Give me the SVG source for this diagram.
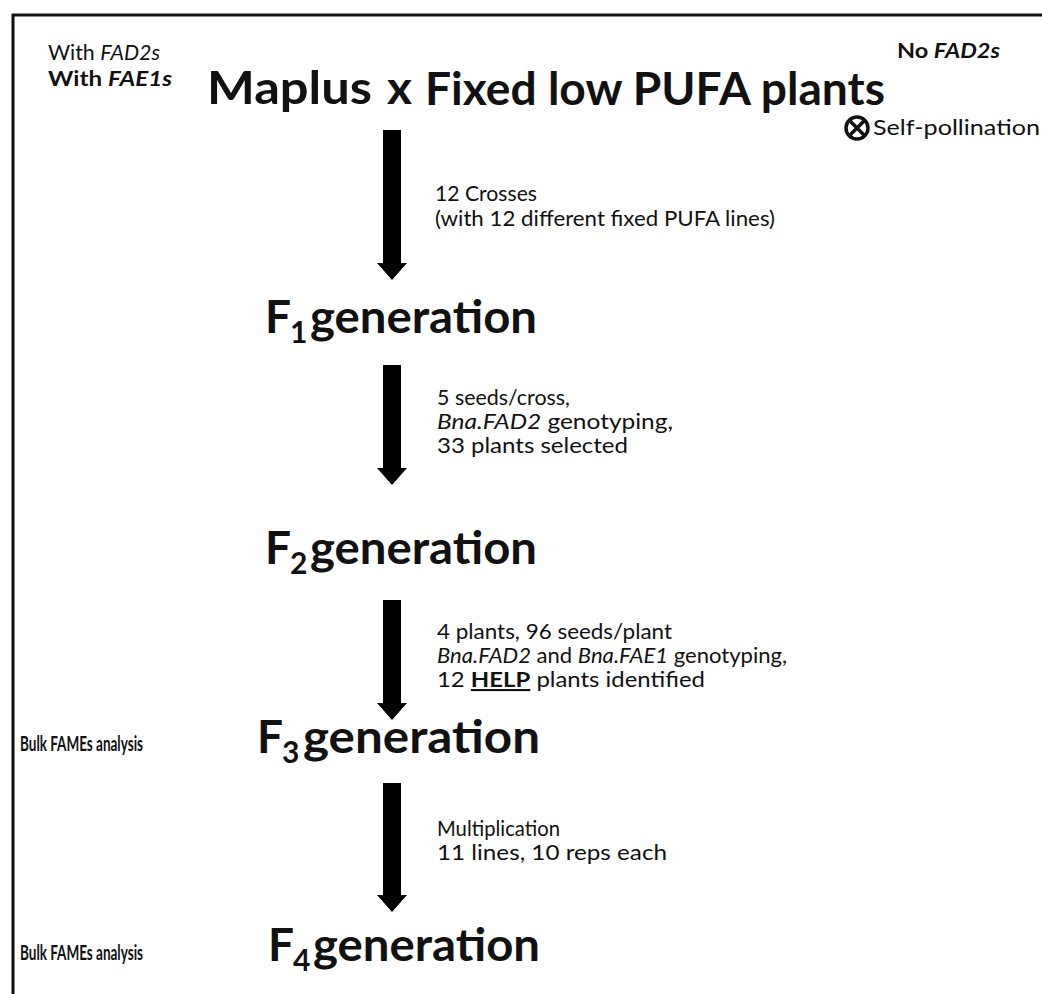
<svg xmlns="http://www.w3.org/2000/svg" width="1042" height="994" viewBox="0 0 1042 994">
<style>
text{font-family:Lato,"Open Sans","Liberation Sans",sans-serif;fill:#111}
.sm{font-size:21px}
.b{font-weight:bold}
.i{font-style:italic}
.big{font-size:46px;font-weight:bold}
.sub{font-size:30px;font-weight:bold}
.bulk{font-size:21px;font-weight:bold}
</style>
<defs>
<polygon id="arr" points="-15,-17 15,-17 0,0"/>
</defs>
<rect x="13" y="15" width="1060" height="1000" fill="none" stroke="#111" stroke-width="3"/>
<g id="parents">
<text class="sm" x="48" y="60" textLength="112" lengthAdjust="spacingAndGlyphs">With <tspan class="i">FAD2s</tspan></text>
<text class="sm b" x="48" y="86" textLength="124" lengthAdjust="spacingAndGlyphs">With <tspan class="i">FAE1s</tspan></text>
<text class="big" x="207" y="104" textLength="165" lengthAdjust="spacingAndGlyphs">Maplus</text>
<text class="big" x="387" y="104" textLength="25" lengthAdjust="spacingAndGlyphs">x</text>
<text class="big" x="425" y="105" textLength="460" lengthAdjust="spacingAndGlyphs">Fixed low PUFA plants</text>
<text class="sm b" x="897" y="58" textLength="103" lengthAdjust="spacingAndGlyphs">No <tspan class="i">FAD2s</tspan></text>
</g>
<g id="selfpoll">
<circle cx="857" cy="128" r="11" fill="none" stroke="#111" stroke-width="3.5"/>
<path d="M849.5,120.5 L864.5,135.5 M864.5,120.5 L849.5,135.5" stroke="#111" stroke-width="3.5"/>
<text class="sm" x="873" y="135" textLength="167" lengthAdjust="spacingAndGlyphs">Self-pollination</text>
</g>
<g id="connectors" fill="#000">
<rect x="383" y="130" width="18" height="136"/><use href="#arr" x="392" y="280"/>
<rect x="383" y="365" width="18" height="106"/><use href="#arr" x="392" y="485"/>
<rect x="383" y="600" width="18" height="106"/><use href="#arr" x="392" y="720"/>
<rect x="383" y="783" width="18" height="115"/><use href="#arr" x="392" y="912"/>
</g>
<g id="label1">
<text class="sm" x="435" y="201" textLength="102" lengthAdjust="spacingAndGlyphs">12 Crosses</text>
<text class="sm" x="435" y="226" textLength="340" lengthAdjust="spacingAndGlyphs">(with 12 different fixed PUFA lines)</text>
</g>
<g id="f1">
<text class="big" x="265" y="333">F</text>
<text class="sub" x="290" y="343">1</text>
<text class="big" x="310" y="333" textLength="227" lengthAdjust="spacingAndGlyphs">generation</text>
</g>
<g id="label2">
<text class="sm" x="437" y="405" textLength="133" lengthAdjust="spacingAndGlyphs">5 seeds/cross,</text>
<text class="sm" x="437" y="429" textLength="236" lengthAdjust="spacingAndGlyphs"><tspan class="i">Bna.FAD2</tspan> genotyping,</text>
<text class="sm" x="437" y="453" textLength="191" lengthAdjust="spacingAndGlyphs">33 plants selected</text>
</g>
<g id="f2">
<text class="big" x="265" y="564">F</text>
<text class="sub" x="290" y="574">2</text>
<text class="big" x="310" y="564" textLength="227" lengthAdjust="spacingAndGlyphs">generation</text>
</g>
<g id="label3">
<text class="sm" x="437" y="639" textLength="235" lengthAdjust="spacingAndGlyphs">4 plants, 96 seeds/plant</text>
<text class="sm" x="437" y="663" textLength="350" lengthAdjust="spacingAndGlyphs"><tspan class="i">Bna.FAD2</tspan> and <tspan class="i">Bna.FAE1</tspan> genotyping,</text>
<text class="sm" x="437" y="687" textLength="268" lengthAdjust="spacingAndGlyphs">12 <tspan class="b" text-decoration="underline">HELP</tspan> plants identified</text>
</g>
<g id="f3">
<text class="bulk" x="20" y="751" textLength="123" lengthAdjust="spacingAndGlyphs">Bulk FAMEs analysis</text>
<text class="big" x="257" y="753">F</text>
<text class="sub" x="282" y="763">3</text>
<text class="big" x="303" y="753" textLength="237" lengthAdjust="spacingAndGlyphs">generation</text>
</g>
<g id="label4">
<text class="sm" x="437" y="836" textLength="123" lengthAdjust="spacingAndGlyphs">Multiplication</text>
<text class="sm" x="437" y="860" textLength="230" lengthAdjust="spacingAndGlyphs">11 lines, 10 reps each</text>
</g>
<g id="f4">
<text class="bulk" x="20" y="960" textLength="123" lengthAdjust="spacingAndGlyphs">Bulk FAMEs analysis</text>
<text class="big" x="268" y="961">F</text>
<text class="sub" x="293" y="971">4</text>
<text class="big" x="313" y="961" textLength="227" lengthAdjust="spacingAndGlyphs">generation</text>
</g>
</svg>
